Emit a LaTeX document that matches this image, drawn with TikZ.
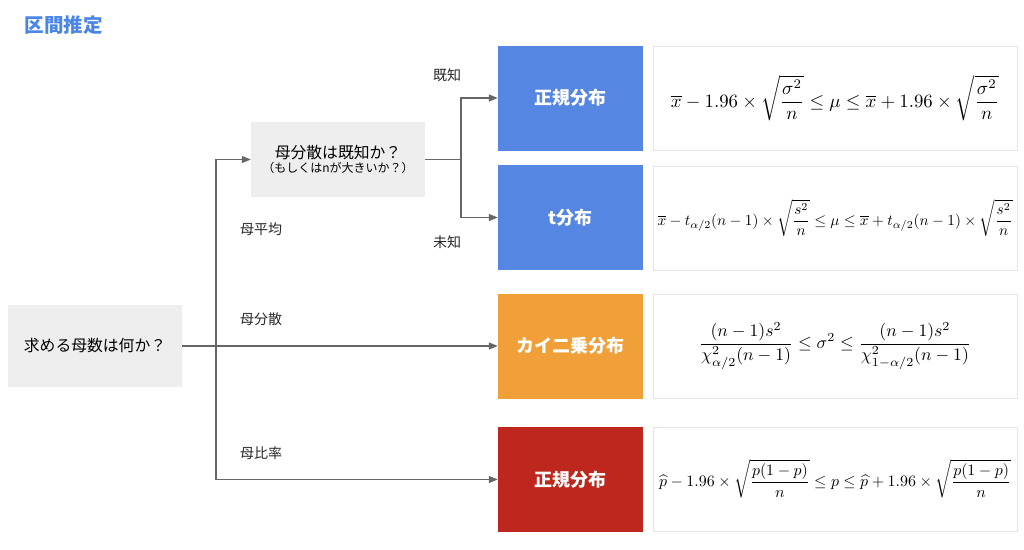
\documentclass[tikz,border=0pt]{standalone}
\usepackage{amsmath}
\usepackage{amssymb}
\usepackage{fontspec}
\setmainfont{Noto Sans CJK JP}
\usetikzlibrary{arrows.meta}

\definecolor{titleblue}{HTML}{4A86E8}
\definecolor{boxgray}{HTML}{EEEEEE}
\definecolor{distblue}{HTML}{5486E2}
\definecolor{distorange}{HTML}{F19F38}
\definecolor{distred}{HTML}{BD271D}
\definecolor{linegray}{HTML}{666666}
\definecolor{framegray}{HTML}{E6E6E6}

\begin{document}
\begin{tikzpicture}[x=1pt, y=-1pt,
    >={Triangle[length=9pt,width=7pt]},
    question/.style={fill=boxgray, inner sep=0pt, align=center, font=\fontsize{15.8}{18}\selectfont},
    dist/.style={inner sep=0pt, minimum width=145pt, minimum height=105pt, text=white, font=\fontsize{18}{21}\selectfont\bfseries},
    formula/.style={draw=framegray, fill=white, inner sep=0pt, minimum width=364pt, minimum height=104pt},
    branch/.style={font=\fontsize{14}{16}\selectfont, text=black!85},
    link/.style={draw=linegray, line width=1.1pt}]

    \useasboundingbox (0,0) rectangle (1024,549);

    % title
    \node[text=titleblue, font=\fontsize{19.5}{22}\selectfont\bfseries, anchor=west] (title) at (21,25) {区間推定};

    % questions
    \node[question, minimum width=174pt, minimum height=82pt] (root) at (95,346) {求める母数は何か？};
    \node[question, minimum width=174pt, minimum height=75pt] (q) at (338,159.5)
        {母分散は既知か？\\[-4pt]{\fontsize{12}{14}\selectfont （もしくはnが大きいか？）}};

    % distributions
    \node[dist, fill=distblue] (normal) at (570.5,98) {正規分布};
    \node[dist, fill=distblue] (tdist) at (570.5,217.5) {t分布};
    \node[dist, fill=distorange] (chi) at (570.5,346) {カイ二乗分布};
    \node[dist, fill=distred] (prop) at (570.5,479.5) {正規分布};

    % intervals
    \node[formula] (f1) at (835,98) {\resizebox{328pt}{!}{$\displaystyle \overline{x}-1.96\times\sqrt{\frac{\sigma^2}{n}}\leq\mu\leq\overline{x}+1.96\times\sqrt{\frac{\sigma^2}{n}}$}};
    \node[formula] (f2) at (835,218) {\resizebox{355pt}{!}{$\displaystyle \overline{x}-t_{\alpha/2}(n-1)\times\sqrt{\frac{s^2}{n}}\leq\mu\leq\overline{x}+t_{\alpha/2}(n-1)\times\sqrt{\frac{s^2}{n}}$}};
    \node[formula] (f3) at (835,346) {\resizebox{272pt}{!}{$\displaystyle \frac{(n-1)s^2}{\chi^2_{\alpha/2}(n-1)}\leq\sigma^2\leq\frac{(n-1)s^2}{\chi^2_{1-\alpha/2}(n-1)}$}};
    \node[formula] (f4) at (835,479) {\resizebox{352pt}{!}{$\displaystyle \widehat{p}-1.96\times\sqrt{\frac{p(1-p)}{n}}\leq p\leq\widehat{p}+1.96\times\sqrt{\frac{p(1-p)}{n}}$}};

    % connectors
    \coordinate (split) at (216,346);
    \coordinate (fork) at (461,159.5);
    \draw[link, ->] (root.east) -- (chi.west);
    \draw[link, ->] (split) |- (q.west);
    \draw[link, ->] (split) |- (prop.west);
    \draw[link] (q.east) -- (fork);
    \draw[link, ->] (fork) |- (normal.west);
    \draw[link, ->] (fork) |- (tdist.west);

    % labels
    \node[branch] (mean) at (261,229) {母平均};
    \node[branch] (var) at (261,319) {母分散};
    \node[branch] (ratio) at (261,453) {母比率};
    \node[branch] (known) at (447,75) {既知};
    \node[branch] (unknown) at (447,242) {未知};

\end{tikzpicture}
\end{document}
